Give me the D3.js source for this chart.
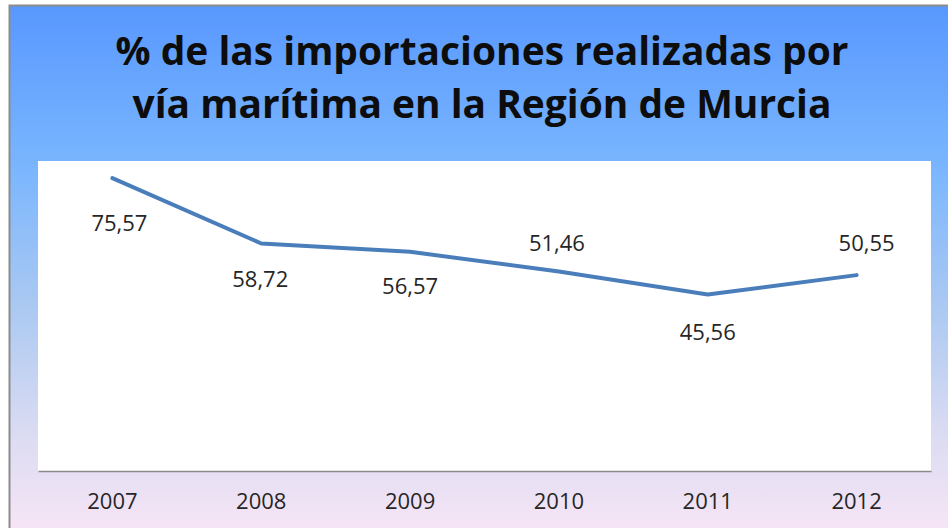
<!DOCTYPE html>
<html><head><meta charset="utf-8">
<script src="https://cdn.jsdelivr.net/npm/d3@7"></script>
<style>html,body{margin:0;padding:0;overflow:hidden;background:#fff}</style>
</head><body>
<svg id="chart" width="948" height="528"></svg>
<script>
const titleLines = ["% de las importaciones realizadas por", "vía marítima en la Región de Murcia"];
const years = ["2007", "2008", "2009", "2010", "2011", "2012"];
const values = [75.57, 58.72, 56.57, 51.46, 45.56, 50.55];
const valueLabels = ["75,57", "58,72", "56,57", "51,46", "45,56", "50,55"];
const yDomain = [0, 80];
// label offsets (dx, dy) relative to point
const labelOffsets = [[7, 45], [-1, 36], [0, 35], [-2, -28], [0, 38], [10, -32]];

const svg = d3.select("#chart");
const defs = svg.append("defs");
const grad = defs.append("linearGradient").attr("id", "bg").attr("x1", 0).attr("y1", 0).attr("x2", 0).attr("y2", 1);
[[0, "#5898fe"], [0.3, "#7ab6fe"], [0.55, "#a9c8f2"], [0.8, "#dcdcf2"], [1, "#fbe6f6"]].forEach(([o, c]) =>
  grad.append("stop").attr("offset", o).attr("stop-color", c));

svg.append("rect").attr("x", 0).attr("y", 0).attr("width", 948).attr("height", 528).attr("fill", "#ffffff");
svg.append("rect").attr("x", 9.5).attr("y", 5.5).attr("width", 960).attr("height", 540)
  .attr("fill", "url(#bg)").attr("stroke", "#8c8c8c").attr("stroke-width", 2);

const plot = {left: 38, right: 931, top: 161, bottom: 471};
svg.append("rect").attr("x", plot.left).attr("y", plot.top)
  .attr("width", plot.right - plot.left).attr("height", plot.bottom - plot.top).attr("fill", "#ffffff");

const x = d3.scaleBand().domain(years).range([plot.left, plot.right]);
const y = d3.scaleLinear().domain(yDomain).range([plot.bottom, plot.top]);

// title
const title = svg.append("text").attr("text-anchor", "middle")
  .attr("font-family", "'Open Sans', sans-serif").attr("font-weight", "bold")
  .attr("font-size", 34).attr("fill", "#0d0d0d");
const spans = titleLines.map((t, i) => title.append("tspan").attr("x", 482).attr("y", 65 + i * 53).text(t));
// fit first line to reference width
const w0 = spans[0].node().getComputedTextLength();
title.attr("font-size", 34 * 733 / w0);

const font = "'Open Sans', sans-serif";
// x axis
const xAxis = d3.axisBottom(x).tickSize(0).tickPadding(22);
const gx = svg.append("g").attr("transform", `translate(0,${plot.bottom})`).call(xAxis);
gx.select(".domain").attr("stroke", "#8a8a8a").attr("stroke-width", 1.5);
gx.selectAll("text").attr("font-family", font).attr("font-size", 22).attr("fill", "#262626");

const cx = d => x(d) + x.bandwidth() / 2;
const line = d3.line().x((d, i) => cx(years[i])).y(d => y(d));
svg.append("path").datum(values).attr("d", line).attr("fill", "none")
  .attr("stroke", "#4a7ebb").attr("stroke-width", 4).attr("stroke-linecap", "round").attr("stroke-linejoin", "round");

svg.append("g").selectAll("text").data(values).join("text")
  .attr("x", (d, i) => cx(years[i]) + labelOffsets[i][0])
  .attr("y", (d, i) => y(d) + labelOffsets[i][1])
  .attr("dy", "0.35em").attr("text-anchor", "middle")
  .attr("font-family", font).attr("font-size", 22).attr("fill", "#262626")
  .text((d, i) => valueLabels[i]);
</script>
</body></html>
